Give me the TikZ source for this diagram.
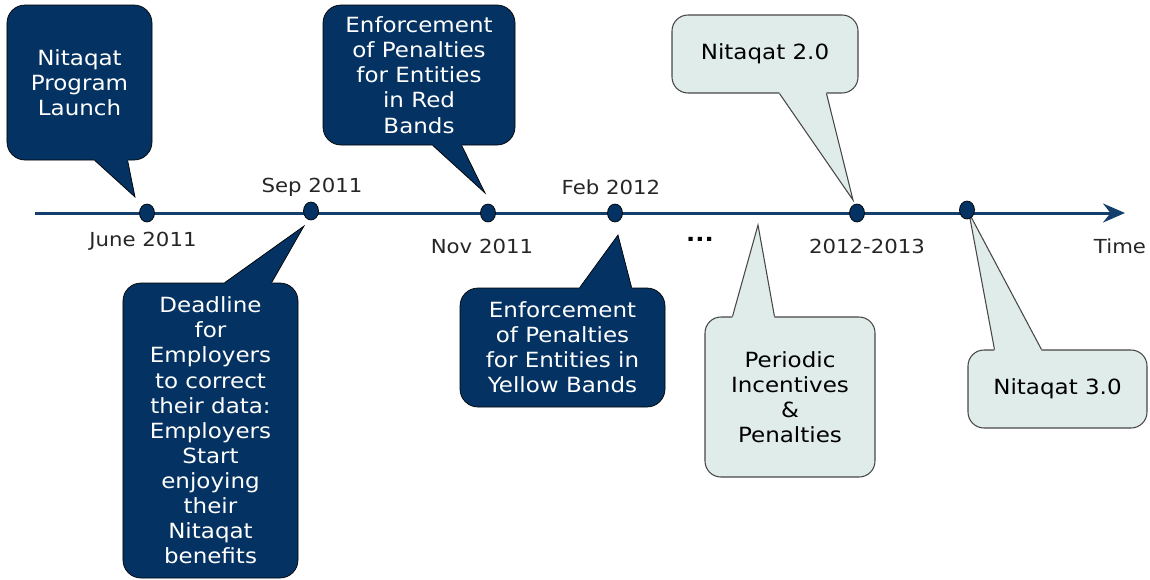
\documentclass[tikz,border=0pt]{standalone}
\usepackage{fontspec}
\setmainfont[FakeStretch=1.1]{DejaVu Sans}
\usepackage{xcolor}
\usepackage{tikz}
\usetikzlibrary{positioning}
\usetikzlibrary{calc}
\usetikzlibrary{shapes.geometric, arrows.meta}
\definecolor{navy}{RGB}{4,50,98}
\definecolor{lineblue}{RGB}{20,62,108}
\definecolor{pale}{RGB}{224,236,234}
\definecolor{edgegray}{RGB}{70,70,70}
\tikzstyle{darkbox} = [rectangle, rounded corners=3.6mm, draw=black, thin, fill=navy, text=white, align=center, inner sep=0pt, font=\fontsize{11.9}{14.3}\selectfont]
\tikzstyle{lightbox} = [rectangle, rounded corners=3.2mm, draw=edgegray, line width=0.6pt, fill=pale, text=black, align=center, inner sep=0pt, font=\fontsize{11.9}{14.3}\selectfont]
\tikzstyle{dot} = [ellipse, draw=black, thin, fill=navy, minimum width=3mm, minimum height=3.6mm, inner sep=0pt]
\tikzstyle{date} = [text=black!85, font=\fontsize{11}{13}\selectfont]
\tikzstyle{timeline} = [line width=0.6mm, draw=lineblue, -{Stealth[length=4.4mm, width=3.8mm, inset=1.5mm]}]
% pointer of a callout: fill, edge, base left, tip, base right, shift into the box
\newcommand{\pointer}[6]{%
  \fill[#1] ($(#3)+(0,#6)$) -- (#3) -- (#4) -- (#5) -- ($(#5)+(0,#6)$) -- cycle;
  \draw[#2] (#3) -- (#4) -- (#5);}

\begin{document}
\begin{tikzpicture}[x=0.2mm, y=-0.2mm]
      \useasboundingbox (0,0) rectangle (1150,579);
      %%%%%%%%%%%%%%%%%%%%%%%%%%%%%%%%%%%%%%%
      \coordinate (start) at (35,213);
      \coordinate (end) at (1125,213);
      \draw[timeline] (start)--(end);
      %%%%%%%%%%%%%%%%%%%%%%%%%%%%%%%%%%%%%%%
      \draw (79.5,82.5) node (launch) [darkbox, minimum width=29mm, minimum height=31mm] {Nitaqat\\Program\\Launch};
      \draw (210.5,430.5) node (deadline) [darkbox, minimum width=35mm, minimum height=59mm] {Deadline\\for\\Employers\\to correct\\their data:\\Employers\\Start\\enjoying\\their\\Nitaqat\\benefits};
      \draw (419,75) node (redband) [darkbox, minimum width=38.4mm, minimum height=28mm] {Enforcement\\of Penalties\\for Entities\\in Red\\Bands};
      \draw (562.5,347.5) node (yellowband) [darkbox, minimum width=41mm, minimum height=23.8mm] {Enforcement\\of Penalties\\for Entities in\\Yellow Bands};
      \draw (765,54) node (nitaqat2) [lightbox, minimum width=37.2mm, minimum height=15.6mm] {Nitaqat 2.0};
      \draw (790,397) node (periodic) [lightbox, minimum width=34mm, minimum height=32mm] {Periodic\\Incentives\\\&\\Penalties};
      \draw (1057.5,389) node (nitaqat3) [lightbox, minimum width=35.8mm, minimum height=15.6mm] {Nitaqat 3.0};
      %%%%%%%%%%%%%%%%%%%%%%%%%%%%%%%%%%%%%%%
      \coordinate (t1) at (135,197);
      \coordinate (t2) at (304,226);
      \coordinate (t3) at (485,193);
      \coordinate (t4) at (618,235);
      \coordinate (t5) at (853,200);
      \coordinate (t6) at (758,225);
      \coordinate (t7) at (969,213);
      \coordinate (b1l) at ($(launch.south west)+(88,0)$);
      \coordinate (b1r) at ($(launch.south west)+(121,0)$);
      \coordinate (b2l) at ($(deadline.north west)+(102,0)$);
      \coordinate (b2r) at ($(deadline.north west)+(149,0)$);
      \coordinate (b3l) at ($(redband.south west)+(110,0)$);
      \coordinate (b3r) at ($(redband.south west)+(139,0)$);
      \coordinate (b4l) at ($(yellowband.north west)+(120,0)$);
      \coordinate (b4r) at ($(yellowband.north west)+(172,0)$);
      \coordinate (b5l) at ($(nitaqat2.south west)+(108,0)$);
      \coordinate (b5r) at ($(nitaqat2.south west)+(155,0)$);
      \coordinate (b6l) at ($(periodic.north west)+(28,0)$);
      \coordinate (b6r) at ($(periodic.north west)+(70,0)$);
      \coordinate (b7l) at ($(nitaqat3.north west)+(27,0)$);
      \coordinate (b7r) at ($(nitaqat3.north west)+(74,0)$);
      \pointer{navy}{black,thin}{b1l}{t1}{b1r}{-3}
      \pointer{navy}{black,thin}{b2l}{t2}{b2r}{3}
      \pointer{navy}{black,thin}{b3l}{t3}{b3r}{-3}
      \pointer{navy}{black,thin}{b4l}{t4}{b4r}{3}
      \pointer{pale}{edgegray,line width=0.6pt}{b5l}{t5}{b5r}{-3}
      \pointer{pale}{edgegray,line width=0.6pt}{b6l}{t6}{b6r}{3}
      \pointer{pale}{edgegray,line width=0.6pt}{b7l}{t7}{b7r}{3}
      %%%%%%%%%%%%%%%%%%%%%%%%%%%%%%%%%%%%%%%
      \draw (147,213) node (jun) [dot] {};
      \draw (311,211) node (sep) [dot] {};
      \draw (488,213) node (nov) [dot] {};
      \draw (615,213) node (feb) [dot] {};
      \draw (857,213) node (later) [dot] {};
      \draw (967,210) node (third) [dot] {};
      %%%%%%%%%%%%%%%%%%%%%%%%%%%%%%%%%%%%%%%
      \node (lblJun) at (143,241) [date] {June 2011};
      \node (lblSep) at (312,187) [date] {Sep 2011};
      \node (lblNov) at (482,246) [date] {Nov 2011};
      \node (lblFeb) at (611,187) [date] {Feb 2012};
      \node (lblLater) at (867,246) [date] {2012-2013};
      \node (lblTime) at (1120,246) [date] {Time};
      \node (dots) at (700,239) [text=black, font=\fontsize{12.5}{15}\bfseries] {...};
\end{tikzpicture}
\end{document}
